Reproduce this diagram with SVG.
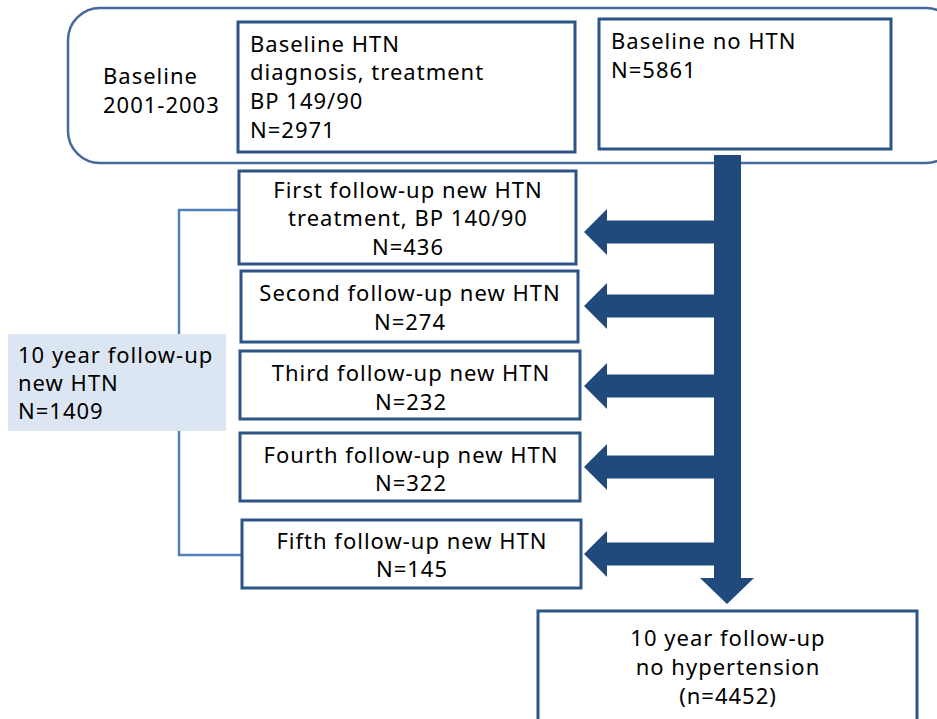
<svg xmlns="http://www.w3.org/2000/svg" width="937" height="719" viewBox="0 0 937 719">
<style>
.box{fill:#fff;stroke:#2c5586;stroke-width:3}
.t{font-family:"Noto Sans","DejaVu Sans",sans-serif;font-size:22px;fill:#000;letter-spacing:1px}
.c{text-anchor:middle}
.arr{fill:#204a7c}
.br{fill:none;stroke:#4f81bd;stroke-width:2.5}
</style>
<rect width="937" height="719" fill="#fff"/>
<g id="baseline-group">
<rect x="68" y="8" width="890" height="155" rx="32" fill="#fff" stroke="#45699c" stroke-width="2.5"/>
<text class="t" x="103" y="84">Baseline</text>
<text class="t" x="103" y="113">2001-2003</text>
</g>
<g id="connectors">
<path class="br" d="M239,210 H179 V555 H242"/>
<path class="arr" d="M714,155 H741 V578 H754 L727,604 L700,578 H714 Z"/>
<path class="arr" d="M716,220.5 H607 V209 L584,232 L607,255 V243.5 H716 Z"/>
<path class="arr" d="M716,294.5 H607 V283 L584,306 L607,329 V317.5 H716 Z"/>
<path class="arr" d="M716,374.5 H607 V363 L584,386 L607,409 V397.5 H716 Z"/>
<path class="arr" d="M716,455.5 H607 V444 L584,467 L607,490 V478.5 H716 Z"/>
<path class="arr" d="M716,542.5 H607 V531 L584,554 L607,577 V565.5 H716 Z"/>
</g>
<g id="baseline-htn">
<rect class="box" x="238" y="22" width="337" height="130"/>
<text class="t" x="250" y="52">Baseline HTN</text>
<text class="t" x="250" y="80">diagnosis, treatment</text>
<text class="t" x="250" y="109">BP 149/90</text>
<text class="t" x="250" y="138">N=2971</text>
</g>
<g id="baseline-no-htn">
<rect class="box" x="599" y="19" width="292" height="130"/>
<text class="t" x="611" y="49">Baseline no HTN</text>
<text class="t" x="611" y="78">N=5861</text>
</g>
<g id="first">
<rect class="box" x="239" y="171" width="337" height="93"/>
<text class="t c" x="408" y="198">First follow-up new HTN</text>
<text class="t c" x="408" y="226">treatment, BP 140/90</text>
<text class="t c" x="408" y="255">N=436</text>
</g>
<g id="second">
<rect class="box" x="241" y="271" width="337" height="71"/>
<text class="t c" x="410" y="301">Second follow-up new HTN</text>
<text class="t c" x="410" y="330">N=274</text>
</g>
<g id="third">
<rect class="box" x="240" y="351" width="340" height="68"/>
<text class="t c" x="411" y="381">Third follow-up new HTN</text>
<text class="t c" x="411" y="410">N=232</text>
</g>
<g id="fourth">
<rect class="box" x="240" y="433" width="340" height="68"/>
<text class="t c" x="411" y="463">Fourth follow-up new HTN</text>
<text class="t c" x="411" y="491">N=322</text>
</g>
<g id="fifth">
<rect class="box" x="242" y="520" width="339" height="68"/>
<text class="t c" x="412" y="549">Fifth follow-up new HTN</text>
<text class="t c" x="412" y="577">N=145</text>
</g>
<g id="ten-year-new">
<rect x="8" y="334" width="218" height="97" fill="#dce6f2"/>
<text class="t" x="18" y="363">10 year follow-up</text>
<text class="t" x="18" y="391">new HTN</text>
<text class="t" x="18" y="419">N=1409</text>
</g>
<g id="ten-year-no">
<rect class="box" x="538" y="611" width="379" height="120"/>
<text class="t c" x="728" y="646">10 year follow-up</text>
<text class="t c" x="728" y="675">no hypertension</text>
<text class="t c" x="728" y="704">(n=4452)</text>
</g>
</svg>
